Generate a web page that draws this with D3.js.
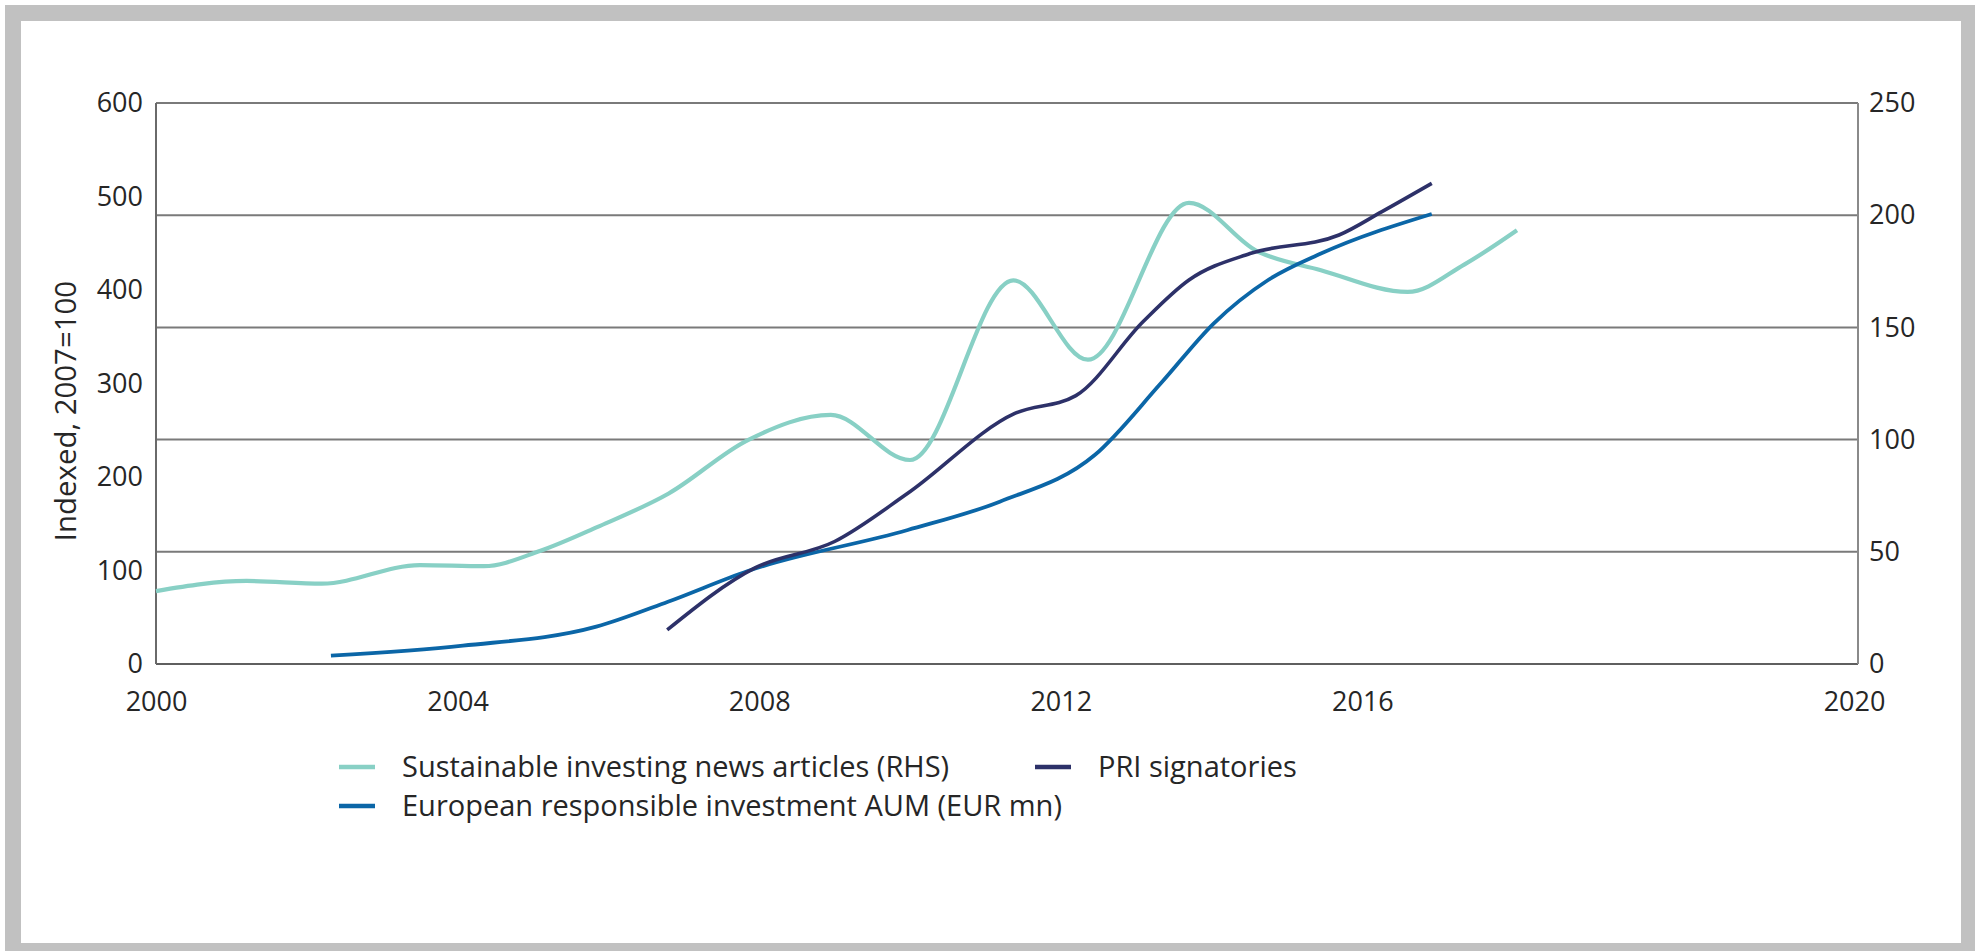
<!DOCTYPE html>
<html>
<head>
<meta charset="utf-8">
<script src="https://cdn.jsdelivr.net/npm/d3@7"></script>
<style>
  body { margin: 0; background: #fff; }
  text { font-family: "Open Sans", "Noto Sans", sans-serif; fill: #262626; }
</style>
</head>
<body>
<script>
// chart values (x = decimal year)

var xTickYears = [2000, 2004, 2008, 2012, 2016];
var xEndLabel = "2020";
var leftTicks = [0, 100, 200, 300, 400, 500, 600];
var rightTicks = [0, 50, 100, 150, 200, 250];

// Sustainable investing news articles (RHS)
var newsYears  = [2000, 2001.2, 2002.2, 2003.5, 2004.35, 2005.1, 2005.85, 2006.8, 2007.85, 2008.95, 2010.0, 2011.37, 2012.36, 2013.7, 2014.6, 2015.45, 2016.6, 2017.35, 2018.05];
var newsValues = [32.5, 37.0, 35.8, 44.1, 43.6, 50.5, 61, 76, 99.8, 111, 90.9, 171, 135.6, 205.5, 184, 175.5, 165.8, 178, 193.3];

// European responsible investment AUM (EUR mn), indexed
var aumYears  = [2002.32, 2004.07, 2005.84, 2006.79, 2007.85, 2009.97, 2011.19, 2012.45, 2013.33, 2014.03, 2014.75, 2015.45, 2016.92];
var aumValues = [8.9, 19.6, 39.9, 66.6, 99.5, 143.3, 173.6, 223.5, 300.5, 364.4, 410.7, 439, 481.3];

// PRI signatories, indexed
var priYears  = [2006.78, 2007.95, 2009.0, 2009.97, 2011.39, 2012.2, 2013.09, 2013.7, 2014.51, 2015.69, 2016.26, 2016.92];
var priValues = [36.4, 103, 131, 182.6, 268, 287, 366, 410.7, 439, 458.8, 483.8, 514];

var seriesNames  = ["Sustainable investing news articles (RHS)", "European responsible investment AUM (EUR mn)", "PRI signatories"];
var seriesColors = ["#88d0c5", "#0b66a7", "#2d3169"];

var width = 1975, height = 951;

var svg = d3.select("body").append("svg")
    .attr("width", width)
    .attr("height", height);

// grey frame
svg.append("rect").attr("x", 5).attr("y", 5).attr("width", width - 5).attr("height", height - 5).attr("fill", "#c1c1c1");
svg.append("rect").attr("x", 21).attr("y", 21).attr("width", 1940).attr("height", 922).attr("fill", "#fff");

var plot = {left: 156, right: 1858, top: 103, bottom: 664};

var x = d3.scaleLinear()
    .domain([2000, 2000 + (plot.right - plot.left) / 75.4])
    .range([plot.left, plot.right]);

var yL = d3.scaleLinear().domain([0, 600]).range([plot.bottom, plot.top]);
var yR = d3.scaleLinear().domain([0, 250]).range([plot.bottom, plot.top]);

// gridlines follow the right axis
svg.append("g").selectAll("line")
  .data(rightTicks)
  .enter().append("line")
    .attr("x1", plot.left)
    .attr("x2", plot.right)
    .attr("y1", function(d) { return yR(d); })
    .attr("y2", function(d) { return yR(d); })
    .attr("stroke", function(d) { return d === 0 ? "#5f5f5f" : "#7a7a7a"; })
    .attr("stroke-width", 2);

svg.append("line")
    .attr("x1", plot.left).attr("x2", plot.left)
    .attr("y1", plot.top).attr("y2", plot.bottom)
    .attr("stroke", "#6a6a6a").attr("stroke-width", 2);
svg.append("line")
    .attr("x1", plot.right).attr("x2", plot.right)
    .attr("y1", plot.top).attr("y2", plot.bottom)
    .attr("stroke", "#8a8a8a").attr("stroke-width", 2);

// axes (labels only)
var leftAxis = svg.append("g")
    .attr("transform", "translate(" + (plot.left - 13) + ",0)")
    .call(d3.axisLeft(yL).tickValues(leftTicks).tickSize(0).tickPadding(0));
var rightAxis = svg.append("g")
    .attr("transform", "translate(" + (plot.right + 11) + ",0)")
    .call(d3.axisRight(yR).tickValues(rightTicks).tickSize(0).tickPadding(0));

var xEnd = x.domain()[1];
var bottomAxis = svg.append("g")
    .attr("transform", "translate(0," + (plot.bottom + 28) + ")")
    .call(d3.axisBottom(x)
      .tickValues(xTickYears.concat([xEnd]))
      .tickSize(0).tickPadding(0)
      .tickFormat(function(d) { return d === xEnd ? xEndLabel : d3.format("d")(d); }));

[leftAxis, rightAxis, bottomAxis].forEach(function(g) {
  g.select(".domain").remove();
  g.selectAll("text")
    .style("font-family", '"Open Sans", "Noto Sans", sans-serif')
    .style("font-size", "27px")
    .attr("fill", "#262626");
});
bottomAxis.selectAll("text").attr("dy", "0.71em");
bottomAxis.selectAll(".tick").filter(function(d) { return d === xEnd; })
    .select("text").attr("dx", -4);

// y title
svg.append("text")
    .attr("transform", "translate(76,411) rotate(-90)")
    .attr("text-anchor", "middle")
    .style("font-size", "29.4px")
    .text("Indexed, 2007=100");

// lines
var lineL = d3.line()
    .x(function(d) { return x(d[0]); })
    .y(function(d) { return yL(d[1]); })
    .curve(d3.curveMonotoneX);
var lineR = d3.line()
    .x(function(d) { return x(d[0]); })
    .y(function(d) { return yR(d[1]); })
    .curve(d3.curveMonotoneX);

var aum = d3.zip(aumYears, aumValues);
var pri = d3.zip(priYears, priValues);
var news = d3.zip(newsYears, newsValues);

svg.append("path").datum(news)
    .attr("d", lineR).attr("fill", "none")
    .attr("stroke", seriesColors[0]).attr("stroke-width", 4.2);
svg.append("path").datum(aum)
    .attr("d", lineL).attr("fill", "none")
    .attr("stroke", seriesColors[1]).attr("stroke-width", 3.8);
svg.append("path").datum(pri)
    .attr("d", lineL).attr("fill", "none")
    .attr("stroke", seriesColors[2]).attr("stroke-width", 3.6);

// legend
var legendPos = [{x: 339, y: 767}, {x: 339, y: 806}, {x: 1035, y: 767}];
var legend = svg.append("g").selectAll("g")
  .data(seriesNames)
  .enter().append("g")
    .attr("transform", function(d, i) { return "translate(" + legendPos[i].x + "," + legendPos[i].y + ")"; });

legend.append("line")
    .attr("x1", 0).attr("x2", 36)
    .attr("stroke", function(d, i) { return seriesColors[i]; })
    .attr("stroke-width", 4.5);

legend.append("text")
    .attr("x", 63)
    .attr("dy", "0.35em")
    .style("font-size", "29px")
    .text(function(d) { return d; });
</script>
</body>
</html>
